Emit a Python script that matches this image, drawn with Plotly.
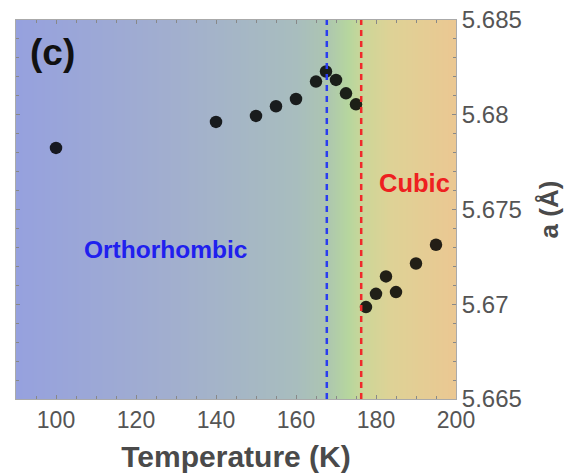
import plotly.graph_objects as go

# Data
temperature = [100, 140, 150, 155, 160, 165, 167.5, 170, 172.5, 175,
               177.5, 180, 182.5, 185, 190, 195]
lattice_a = [5.67825, 5.67962, 5.67994, 5.68045, 5.68083, 5.68175, 5.68228,
             5.68184, 5.68113, 5.68055,
             5.66985, 5.67055, 5.67147, 5.67064, 5.67215, 5.67314]
transition_ortho = 167.7
transition_cubic = 176.3
x_ticks = [100, 120, 140, 160, 180, 200]
y_ticks = [5.665, 5.67, 5.675, 5.68, 5.685]
y_tick_text = ["5.665", "5.67", "5.675", "5.68", "5.685"]

# background gradient grid (temperature axis)
bg_x = list(range(90, 201, 5))
bg_y = [5.665, 5.685]
bg_colorscale = [
    [0.0, "rgb(150,161,222)"],
    [0.364, "rgb(162,175,206)"],
    [0.636, "rgb(168,189,190)"],
    [0.70, "rgb(172,196,178)"],
    [0.755, "rgb(182,214,158)"],
    [0.79, "rgb(205,214,152)"],
    [0.85, "rgb(222,210,150)"],
    [1.0, "rgb(235,199,146)"],
]

FONT = "Liberation Sans, Arial, sans-serif"

fig = go.Figure()
fig.add_trace(go.Heatmap(
    x=bg_x, y=bg_y, z=[bg_x, bg_x],
    colorscale=bg_colorscale, zmin=90, zmax=200,
    zsmooth="best", showscale=False, hoverinfo="skip",
))
fig.add_trace(go.Scatter(
    x=temperature, y=lattice_a, mode="markers",
    marker=dict(color="black", size=12.5, opacity=0.85, line=dict(width=0)),
    showlegend=False,
))

for xv, col in [(transition_ortho, "#2a3cf0"), (transition_cubic, "#f02a2a")]:
    fig.add_shape(type="line", x0=xv, x1=xv, y0=0, y1=1, xref="x", yref="paper",
                  line=dict(color=col, width=2.5, dash="6px,5px"))

fig.add_annotation(x=93, y=5.68331, text="<b>(c)</b>", showarrow=False,
                   xanchor="left", yanchor="middle",
                   font=dict(family=FONT, size=37, color="#111111"))
fig.add_annotation(x=106.5, y=5.67287, text="<b>Orthorhombic</b>", showarrow=False,
                   xanchor="left", yanchor="middle",
                   font=dict(family=FONT, size=24.5, color="#2020ee"))
fig.add_annotation(x=180.3, y=5.67641, text="<b>Cubic</b>", showarrow=False,
                   xanchor="left", yanchor="middle",
                   font=dict(family=FONT, size=25.5, color="#ee2020"))

fig.update_layout(
    width=566, height=474,
    margin=dict(l=16, r=110, t=20, b=75),
    paper_bgcolor="white", plot_bgcolor="white",
    font=dict(family=FONT, color="#555555"),
    xaxis=dict(
        range=[90, 200], tickvals=x_ticks, ticks="inside", ticklen=4,
        tickcolor="#888888", showgrid=False, zeroline=False, automargin=False,
        showline=True, linecolor="#aaaaaa", linewidth=1, mirror="ticks",
        tickfont=dict(size=23, color="#555555"),
        minor=dict(dtick=5, ticks="inside", ticklen=3, tickcolor="#888888"),
        title=dict(text="<b>Temperature (K)</b>", font=dict(size=30, color="#4a4a4a"),
                   standoff=14),
    ),
    yaxis=dict(
        range=[5.665, 5.685], side="right", tickvals=y_ticks, ticktext=y_tick_text,
        ticks="inside", ticklen=4, tickcolor="#888888", showgrid=False,
        zeroline=False, showline=True, linecolor="#aaaaaa", linewidth=1,
        mirror="ticks", tickfont=dict(size=24, color="#555555"), automargin=False,
        minor=dict(dtick=0.001, ticks="inside", ticklen=3, tickcolor="#888888"),
        title=dict(text="<b>a (Å)</b>", font=dict(size=26, color="#4a4a4a"),
                   standoff=18),
    ),
)

fig.write_html("out.html")
